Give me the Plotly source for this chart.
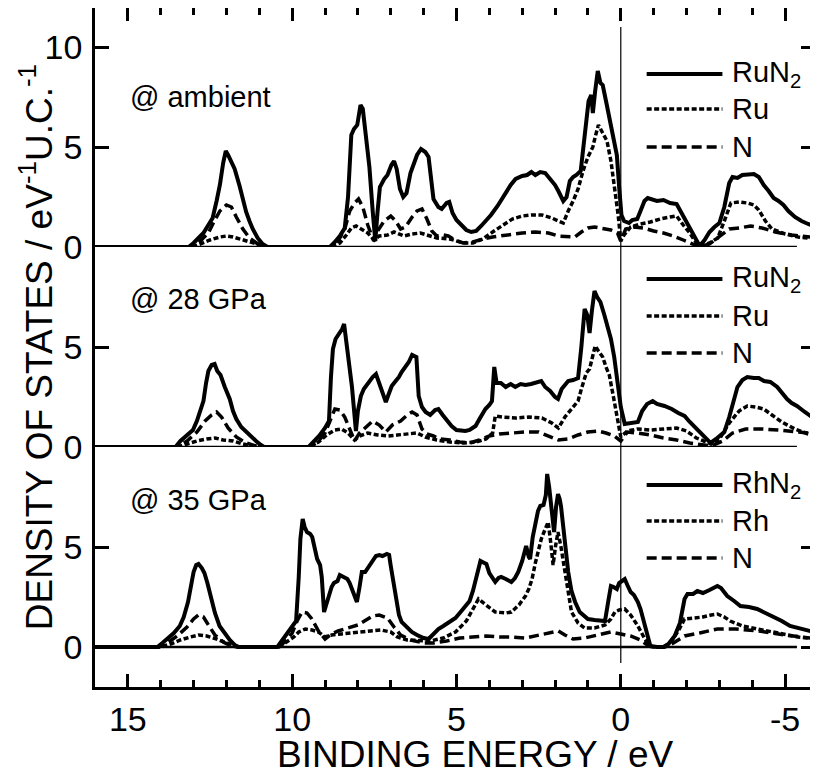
import plotly.graph_objects as go
from plotly.subplots import make_subplots

# ---------------- data (binding energy in eV, DOS in eV^-1 U.C.^-1) ----------------
# ambient RuN2
E_amb_tot = [16, 13.15, 13.0, 12.85, 12.7, 12.55, 12.42, 12.3, 12.2, 12.1, 12.02, 11.95, 11.85, 11.75, 11.6, 11.5, 11.4, 11.3, 11.2, 11.05, 10.9, 10.75,
             8.85, 8.7, 8.55, 8.4, 8.3, 8.2, 8.12, 8.02, 7.92, 7.85, 7.76, 7.65, 7.55, 7.47, 7.4, 7.33, 7.2, 7.1, 6.98, 6.9, 6.82, 6.72, 6.62, 6.52,
             6.4, 6.3, 6.2, 6.08, 5.95, 5.85, 5.78, 5.7, 5.55, 5.45, 5.3, 5.22, 5.12, 5.0, 4.85, 4.7, 4.55, 4.4, 4.25, 4.1, 3.95, 3.75, 3.55, 3.35,
             3.2, 3.0, 2.85, 2.72, 2.6, 2.45, 2.3, 2.15, 2.0, 1.9, 1.75, 1.65, 1.55, 1.45, 1.35, 1.22, 1.1, 0.98, 0.9, 0.85, 0.78, 0.7, 0.62, 0.55,
             0.45, 0.35, 0.25, 0.12, 0.05, -0.02, -0.1, -0.25, -0.35, -0.5, -0.6, -0.72, -0.82, -0.95, -1.1, -1.3, -1.5, -1.7, -1.85, -2.0, -2.15,
             -2.3, -2.4, -2.55, -2.7, -2.85, -3.0, -3.15, -3.3, -3.4, -3.55, -3.7, -3.85, -4.05, -4.2, -4.35, -4.5, -4.65, -4.8, -4.95, -5.1, -5.3,
             -5.5, -5.7, -6.0]
D_amb_tot = [0, 0, 0.2, 0.45, 0.7, 1.1, 1.45, 2.3, 3.1, 4.2, 4.8, 4.6, 4.3, 3.9, 3.05, 2.3, 1.75, 1.3, 0.9, 0.45, 0.15, 0,
             0, 0.25, 0.55, 0.95, 2.5, 5.6, 5.9, 6.1, 7.1, 6.9, 5.7, 4.0, 1.8, 0.3, 1.8, 3.0, 3.4, 3.6, 4.1, 4.3, 3.9, 2.9, 2.5, 2.7,
             3.7, 4.2, 4.6, 4.9, 4.75, 4.5, 3.5, 2.4, 2.0, 1.9, 2.2, 2.25, 1.7, 1.35, 1.1, 0.85, 0.75, 0.8, 1.05, 1.3, 1.6, 2.05, 2.6, 3.1,
             3.4, 3.55, 3.6, 3.75, 3.6, 3.75, 3.7, 3.4, 3.1, 2.8, 2.3, 2.5, 3.3, 3.5, 3.6, 3.8, 5.5, 7.3, 7.6, 6.7, 7.8, 8.8, 8.2, 8.1,
             7.3, 6.4, 5.6, 4.6, 3.0, 1.6, 1.3, 1.2, 1.35, 1.4, 1.8, 2.3, 2.45, 2.4, 2.3, 2.35, 2.2, 2.15, 1.7, 1.3, 0.8,
             0.3, 0.05, 0.35, 0.75, 1.0, 1.2, 2.0, 3.2, 3.5, 3.45, 3.6, 3.6, 3.65, 3.5, 3.1, 2.8, 2.45, 2.3, 2.1, 1.8, 1.5,
             1.3, 1.15, 1.0]
E_amb_ru = [16, 13.05, 12.8, 12.5, 12.2, 12.0, 11.8, 11.5, 11.2, 10.9, 10.75, 8.8, 8.55, 8.35, 8.2, 8.05, 7.9, 7.7, 7.5, 7.35, 7.1, 6.9, 6.6,
            6.35, 6.1, 5.9, 5.6, 5.2, 4.8, 4.5, 4.2, 3.9, 3.6, 3.3, 3.0, 2.7, 2.4, 2.1, 1.9, 1.75, 1.6, 1.45, 1.3, 1.15, 1.0, 0.85, 0.78,
            0.68, 0.55, 0.42, 0.3, 0.18, 0.08, 0.0, -0.1, -0.3, -0.6, -0.9, -1.2, -1.5, -1.7, -1.9, -2.1, -2.3, -2.45, -2.7, -2.95, -3.15,
            -3.35, -3.6, -3.85, -4.05, -4.2, -4.4, -4.6, -5.0, -5.4, -6.0]
D_amb_ru = [0, 0, 0.15, 0.35, 0.5, 0.55, 0.5, 0.35, 0.2, 0.05, 0, 0, 0.2, 0.6, 0.95, 1.05, 0.9, 0.7, 0.35, 0.55, 0.6, 0.75, 0.55,
            0.65, 0.7, 0.6, 0.45, 0.4, 0.2, 0.2, 0.4, 0.75, 1.1, 1.4, 1.55, 1.6, 1.6, 1.45, 1.3, 1.2, 1.8, 2.3, 2.9, 3.8, 4.5, 5.0, 5.5,
            6.1, 5.7, 5.3, 4.3, 2.9, 1.6, 0.3, 0.6, 1.0, 1.15, 1.25, 1.4, 1.5, 1.55, 1.1, 0.7, 0.2, 0.05, 0.2, 0.45, 1.3,
            2.2, 2.25, 2.2, 2.1, 1.85, 1.3, 0.9, 0.65, 0.5, 0.4]
E_amb_n = [16, 13.1, 12.8, 12.55, 12.4, 12.2, 12.0, 11.85, 11.7, 11.5, 11.3, 11.0, 10.8, 8.8, 8.6, 8.4, 8.25, 8.1, 7.98, 7.85, 7.7, 7.52,
           7.4, 7.2, 7.0, 6.85, 6.7, 6.55, 6.35, 6.2, 6.05, 5.9, 5.75, 5.6, 5.4, 5.25, 5.05, 4.8, 4.5, 4.2, 3.9, 3.5, 3.0, 2.6, 2.2, 1.9,
           1.6, 1.4, 1.2, 1.0, 0.8, 0.5, 0.3, 0.1, 0.0, -0.15, -0.4, -0.7, -1.0, -1.3, -1.6, -1.9, -2.2, -2.4, -2.7, -3.0, -3.3, -3.6,
           -3.95, -4.3, -4.7, -5.2, -6.0]
D_amb_n = [0, 0, 0.3, 0.7, 1.2, 1.8, 2.1, 2.0, 1.5, 0.9, 0.45, 0.1, 0, 0, 0.3, 0.9, 1.8, 2.2, 2.4, 2.0, 1.1, 0.3,
           0.8, 1.3, 1.55, 1.3, 0.9, 1.0, 1.5, 1.8, 1.9, 1.4, 0.8, 0.55, 0.6, 0.55, 0.35, 0.2, 0.25, 0.4, 0.5, 0.6, 0.7, 0.75, 0.7, 0.55,
           0.5, 0.5, 0.75, 0.95, 1.0, 0.9, 0.85, 0.7, 0.3, 0.9, 1.0, 0.95, 0.8, 0.7, 0.55, 0.35, 0.15, 0.0, 0.15, 0.5, 0.9, 0.95,
           1.05, 0.95, 0.75, 0.6, 0.45]

# 28 GPa RuN2
E_28_tot = [16, 13.55, 13.4, 13.2, 13.02, 12.9, 12.78, 12.7, 12.62, 12.55, 12.45, 12.36, 12.28, 12.18, 12.05, 11.9, 11.8, 11.7, 11.55, 11.4,
            11.25, 11.1, 10.95, 10.85, 9.5, 9.35, 9.18, 9.0, 8.88, 8.82, 8.76, 8.68, 8.58, 8.48, 8.42, 8.35, 8.27, 8.18, 8.12, 8.06, 8.0,
            7.91, 7.82, 7.76, 7.65, 7.55, 7.45, 7.35, 7.25, 7.15, 7.05, 6.97, 6.85, 6.75, 6.67, 6.55, 6.45, 6.35, 6.28, 6.22, 6.15, 6.05,
            5.94, 5.8, 5.65, 5.55, 5.42, 5.3, 5.15, 5.0, 4.85, 4.73, 4.6, 4.42, 4.3, 4.12, 4.0, 3.92, 3.85, 3.78, 3.65, 3.5, 3.35, 3.21,
            3.05, 2.9, 2.73, 2.55, 2.42, 2.3, 2.15, 2.0, 1.91, 1.8, 1.7, 1.6, 1.45, 1.3, 1.2, 1.1, 1.02, 0.95, 0.88, 0.8, 0.72, 0.62, 0.5,
            0.4, 0.3, 0.2, 0.1, 0.0, -0.12, -0.3, -0.52, -0.65, -0.8, -0.97, -1.1, -1.33, -1.55, -1.75, -1.94, -2.1, -2.3, -2.55, -2.73,
            -2.9, -3.05, -3.15, -3.3, -3.45, -3.55, -3.7, -3.85, -4.05, -4.2, -4.36, -4.55, -4.76, -4.9, -5.06, -5.2, -5.36, -5.6, -5.88, -6.0]
D_28_tot = [0, 0, 0.3, 0.6, 0.85, 1.3, 1.9, 2.3, 3.2, 3.8, 4.1, 4.15, 3.8, 3.6, 3.0, 2.4, 1.8, 1.4, 1.0, 0.75,
            0.5, 0.3, 0.1, 0, 0, 0.25, 0.55, 0.95, 1.3, 3.5, 4.9, 5.4, 5.65, 5.9, 6.15, 5.3, 4.25, 3.0, 1.9, 0.8, 1.8,
            2.55, 2.9, 3.05, 3.3, 3.5, 3.65, 3.2, 2.7, 2.25, 2.7, 3.05, 3.3, 3.5, 3.75, 4.0, 4.25, 4.6, 4.55, 4.5, 2.55, 2.0,
            1.75, 1.6, 1.85, 1.9, 1.6, 1.35, 1.05, 0.85, 0.8, 0.8, 0.85, 1.05, 1.4, 1.9, 2.1, 2.3, 4.0, 3.2, 3.2, 3.0, 3.15, 3.0,
            3.15, 3.1, 3.15, 3.25, 3.3, 3.0, 2.8, 2.5, 2.4, 2.9, 3.1, 3.3, 3.35, 3.45, 5.0, 6.9, 6.6, 5.7, 6.8, 7.8, 7.5, 7.25, 6.6,
            6.0, 5.4, 4.5, 3.3, 2.0, 1.15, 1.2, 1.25, 1.8, 2.15, 2.3, 2.15, 2.05, 1.9, 1.7, 1.55, 1.25, 0.9, 0.5, 0.2,
            0.4, 0.6, 0.75, 1.5, 2.5, 3.0, 3.35, 3.5, 3.45, 3.45, 3.3, 3.25, 3.0, 2.7, 2.4, 2.2, 2.05, 1.75, 1.4, 1.3]
E_28_ru = [16, 13.5, 13.2, 12.9, 12.6, 12.35, 12.1, 11.8, 11.5, 11.2, 10.9, 9.45, 9.2, 8.95, 8.7, 8.5, 8.3, 8.1, 7.95, 7.7, 7.4, 7.1, 6.8,
           6.5, 6.2, 5.95, 5.6, 5.2, 4.8, 4.4, 4.1, 3.9, 3.82, 3.6, 3.2, 2.8, 2.4, 2.1, 1.9, 1.7, 1.5, 1.3, 1.2, 1.05, 0.95, 0.85, 0.78,
           0.68, 0.55, 0.45, 0.35, 0.2, 0.08, 0.0, -0.2, -0.5, -0.9, -1.3, -1.7, -2.0, -2.3, -2.6, -2.75, -3.0, -3.3, -3.6, -3.85, -4.1,
           -4.35, -4.6, -4.9, -5.3, -5.7, -6.0]
D_28_ru = [0, 0, 0.15, 0.3, 0.4, 0.45, 0.35, 0.3, 0.15, 0.05, 0, 0, 0.25, 0.6, 0.85, 0.9, 0.7, 0.35, 0.55, 0.7, 0.6, 0.55, 0.6,
           0.65, 0.7, 0.5, 0.35, 0.25, 0.2, 0.25, 0.4, 0.7, 1.55, 1.5, 1.45, 1.5, 1.45, 1.2, 0.95, 1.5, 1.9, 2.3, 2.9, 3.7, 3.9, 4.6, 5.05,
           4.8, 4.5, 4.0, 3.6, 2.3, 1.2, 0.5, 0.8, 0.9, 0.85, 0.9, 0.95, 0.8, 0.45, 0.25, 0.15, 0.4, 1.2, 1.8, 2.05, 2.0,
           1.9, 1.6, 1.25, 0.9, 0.65, 0.55]
E_28_n = [16, 13.5, 13.2, 12.9, 12.65, 12.45, 12.3, 12.15, 11.95, 11.7, 11.4, 11.1, 10.9, 9.45, 9.2, 9.0, 8.85, 8.7, 8.55, 8.4, 8.25, 8.1,
          7.95, 7.75, 7.55, 7.35, 7.15, 6.95, 6.7, 6.5, 6.35, 6.2, 6.05, 5.9, 5.7, 5.5, 5.2, 4.9, 4.6, 4.3, 4.0, 3.7, 3.3, 2.9, 2.5, 2.2,
          1.9, 1.6, 1.3, 1.0, 0.7, 0.45, 0.2, 0.0, -0.2, -0.5, -0.9, -1.3, -1.7, -2.1, -2.5, -2.75, -3.1, -3.4, -3.8, -4.3, -4.8, -5.3, -6.0]
D_28_n = [0, 0, 0.3, 0.75, 1.3, 1.6, 1.75, 1.5, 0.95, 0.5, 0.2, 0.05, 0, 0, 0.3, 0.7, 1.3, 1.9, 1.85, 1.5, 0.9, 0.3,
          0.7, 1.0, 1.3, 1.1, 0.75, 1.1, 1.3, 1.6, 1.75, 1.6, 0.9, 0.65, 0.55, 0.4, 0.35, 0.25, 0.2, 0.35, 0.55, 0.65, 0.7, 0.75, 0.75, 0.55,
          0.35, 0.4, 0.6, 0.75, 0.8, 0.7, 0.55, 0.3, 0.75, 0.7, 0.6, 0.45, 0.35, 0.2, 0.1, 0.05, 0.3, 0.7, 0.9, 0.9, 0.85, 0.75, 0.65]

# 35 GPa RhN2
E_35_tot = [16, 14.1, 13.95, 13.8, 13.6, 13.42, 13.3, 13.17, 13.08, 13.0, 12.92, 12.85, 12.75, 12.67, 12.58, 12.46, 12.35, 12.21, 12.05,
            11.9, 11.75, 11.65, 10.45, 10.3, 10.1, 9.95, 9.88, 9.8, 9.75, 9.68, 9.62, 9.55, 9.45, 9.39, 9.3, 9.24, 9.15, 9.1, 9.03, 8.95,
            8.88, 8.8, 8.73, 8.62, 8.55, 8.48, 8.4, 8.32, 8.25, 8.18, 8.1, 8.03, 7.95, 7.88, 7.78, 7.67, 7.55, 7.45, 7.35, 7.25, 7.12, 7.05,
            7.0, 6.92, 6.85, 6.75, 6.67, 6.5, 6.36, 6.2, 6.0, 5.85, 5.7, 5.55, 5.4, 5.2, 5.03, 4.85, 4.7, 4.6, 4.5, 4.42, 4.33, 4.27, 4.15,
            4.09, 4.0, 3.9, 3.82, 3.72, 3.64, 3.5, 3.4, 3.33, 3.22, 3.12, 3.0, 2.88, 2.8, 2.76, 2.68, 2.61, 2.52, 2.45, 2.35, 2.28, 2.24,
            2.18, 2.12, 2.07, 2.03, 1.97, 1.91, 1.86, 1.82, 1.75, 1.68, 1.6, 1.5, 1.39, 1.25, 1.1, 1.0, 0.8, 0.6, 0.48, 0.38, 0.3, 0.22,
            0.12, 0.05, -0.05, -0.12, -0.2, -0.3, -0.4, -0.52, -0.6, -0.73, -0.82, -0.9, -1.1, -1.3, -1.45, -1.64, -1.8, -1.94, -2.03,
            -2.2, -2.33, -2.5, -2.7, -2.85, -2.94, -3.05, -3.24, -3.45, -3.64, -3.9, -4.15, -4.4, -4.67, -4.9, -5.15, -5.5, -5.88, -6.0]
D_35_tot = [0, 0, 0.2, 0.4, 0.7, 1.05, 1.5, 2.25, 3.0, 3.75, 4.1, 4.15, 3.95, 3.7, 3.2, 2.4, 1.7, 1.05, 0.65,
            0.35, 0.1, 0, 0, 0.35, 0.8, 1.1, 1.3, 3.5, 5.4, 6.4, 6.0, 5.75, 5.65, 5.5, 4.9, 4.4, 4.1, 3.5, 1.75, 2.2,
            2.6, 3.0, 3.2, 3.3, 3.6, 3.55, 3.5, 3.4, 3.2, 2.9, 2.5, 2.25, 3.0, 3.75, 3.75, 4.0, 4.3, 4.55, 4.6, 4.55, 4.65, 4.6,
            4.05, 3.2, 2.4, 1.6, 1.25, 0.95, 0.75, 0.6, 0.45, 0.4, 0.65, 0.9, 1.05, 1.25, 1.45, 1.8, 2.1, 2.3, 2.8, 3.3, 4.0, 4.3, 4.2,
            4.15, 3.7, 3.4, 3.25, 3.45, 3.5, 3.4, 3.3, 3.25, 3.45, 3.75, 4.3, 5.05, 4.5, 4.4, 5.5, 6.05, 6.8, 7.05, 7.1, 7.6, 8.65,
            8.0, 7.05, 6.3, 5.75, 7.0, 7.65, 7.4, 7.05, 6.0, 4.8, 3.75, 2.8, 2.25, 1.75, 1.5, 1.4, 1.35, 1.35, 1.3, 2.3, 3.05, 3.0,
            2.9, 3.2, 3.35, 3.4, 3.1, 2.75, 2.6, 2.25, 1.9, 1.05, 0.5, 0.05, 0.0, 0.0, 0.15, 0.55, 1.2, 2.4, 2.65,
            2.65, 2.8, 2.7, 2.85, 2.95, 3.05, 2.95, 2.55, 2.3, 2.05, 2.0, 1.9, 1.7, 1.5, 1.3, 1.05, 0.9, 0.75, 0.7]
E_35_rh = [16, 14.0, 13.7, 13.4, 13.1, 12.85, 12.6, 12.3, 12.0, 11.75, 11.6, 10.4, 10.2, 9.95, 9.8, 9.6, 9.4, 9.2, 9.0, 8.8, 8.5, 8.2,
           7.9, 7.6, 7.3, 7.0, 6.8, 6.5, 6.1, 5.8, 5.4, 5.03, 4.7, 4.5, 4.33, 4.1, 3.82, 3.5, 3.33, 3.1, 2.9, 2.8, 2.7, 2.6, 2.5, 2.42,
           2.3, 2.21, 2.13, 2.06, 1.98, 1.91, 1.82, 1.7, 1.6, 1.5, 1.3, 1.1, 0.8, 0.48, 0.3, 0.18, 0.05, -0.12, -0.3, -0.52, -0.7, -0.85,
           -1.0, -1.3, -1.5, -1.75, -1.94, -2.2, -2.5, -2.75, -2.94, -3.15, -3.33, -3.7, -4.35, -4.9, -5.4, -6.0]
D_35_rh = [0, 0, 0.15, 0.35, 0.5, 0.6, 0.55, 0.4, 0.2, 0.05, 0, 0, 0.2, 0.5, 0.75, 0.9, 0.85, 0.75, 0.5, 0.6, 0.65, 0.7,
           0.75, 0.8, 0.85, 0.75, 0.5, 0.35, 0.3, 0.3, 0.45, 0.75, 1.3, 1.9, 2.4, 2.1, 1.75, 1.7, 1.75, 2.1, 2.55, 2.9, 3.4, 4.2, 4.8, 5.4,
           5.9, 6.25, 5.2, 4.1, 5.1, 5.75, 5.0, 3.75, 2.7, 1.75, 1.2, 0.95, 0.95, 1.1, 1.4, 1.75, 1.85, 1.9, 1.6, 1.05, 0.5, 0.1,
           0.0, 0.0, 0.2, 0.8, 1.4, 1.45, 1.5, 1.6, 1.65, 1.5, 1.3, 1.05, 0.85, 0.65, 0.5, 0.4]
E_35_n = [16, 14.05, 13.8, 13.5, 13.2, 13.0, 12.85, 12.7, 12.55, 12.35, 12.1, 11.85, 11.65, 10.4, 10.2, 10.0, 9.85, 9.7, 9.55, 9.4, 9.2,
          9.0, 8.8, 8.6, 8.4, 8.2, 8.0, 7.8, 7.55, 7.35, 7.1, 6.9, 6.7, 6.4, 6.0, 5.7, 5.3, 4.9, 4.5, 4.1, 3.7, 3.3, 2.9, 2.5, 2.1, 1.9,
          1.7, 1.45, 1.1, 0.7, 0.3, 0.0, -0.3, -0.6, -0.85, -1.0, -1.35, -1.6, -1.94, -2.4, -2.94, -3.5, -4.2, -5.0, -6.0]
D_35_n = [0, 0, 0.2, 0.55, 1.0, 1.4, 1.6, 1.5, 1.1, 0.6, 0.25, 0.05, 0, 0, 0.3, 0.7, 1.3, 1.75, 1.7, 1.4, 0.8,
          0.4, 0.65, 0.8, 0.9, 1.0, 1.1, 1.3, 1.55, 1.6, 1.45, 1.0, 0.6, 0.35, 0.2, 0.2, 0.3, 0.45, 0.5, 0.55, 0.5, 0.5, 0.45, 0.6, 0.75, 0.8,
          0.6, 0.4, 0.45, 0.6, 0.75, 0.65, 0.55, 0.35, 0.05, 0.0, 0.0, 0.2, 0.55, 0.7, 0.9, 0.9, 0.8, 0.6, 0.4]

panel_labels = ["@ ambient", "@ 28 GPa", "@ 35 GPa"]
legend_names = [["RuN<sub>2</sub>", "Ru", "N"], ["RuN<sub>2</sub>", "Ru", "N"], ["RhN<sub>2</sub>", "Rh", "N"]]
x_ticks = [15, 10, 5, 0, -5]
y_ranges = [[0, 11.95], [0, 10], [-2, 10]]
y_ticks = [[0, 5, 10], [0, 5], [0, 5]]

panels = [
    [(E_amb_tot, D_amb_tot), (E_amb_ru, D_amb_ru), (E_amb_n, D_amb_n)],
    [(E_28_tot, D_28_tot), (E_28_ru, D_28_ru), (E_28_n, D_28_n)],
    [(E_35_tot, D_35_tot), (E_35_rh, D_35_rh), (E_35_n, D_35_n)],
]

# ---------------- styling ----------------
FONT = "Liberation Sans, Arial, Helvetica, sans-serif"
styles = [dict(width=4, dash="solid"), dict(width=3.5, dash="5px,2.5px"), dict(width=3.5, dash="10px,5px")]

fig = make_subplots(rows=3, cols=1, shared_xaxes=True, vertical_spacing=0, row_heights=[11.95, 10, 12])

for r, series in enumerate(panels, start=1):
    for k in [2, 1, 0]:
        E, D = series[k]
        fig.add_trace(go.Scatter(x=E, y=D, mode="lines", showlegend=False,
                                 line=dict(color="black", width=styles[k]["width"], dash=styles[k]["dash"]),
                                 hoverinfo="skip"), row=r, col=1)
    fig.add_shape(type="line", x0=16, x1=-5.36, y0=0, y1=0, line=dict(color="black", width=2.5), row=r, col=1)

for r in range(1, 4):
    fig.update_yaxes(range=y_ranges[r - 1], tickvals=y_ticks[r - 1], ticktext=[str(v) for v in y_ticks[r - 1]],
                     showline=True, linecolor="black", linewidth=2.5, mirror="ticks",
                     ticks="inside", ticklen=14, tickwidth=2.5, tickcolor="black",
                     tickfont=dict(family=FONT, size=34, color="black"), ticklabelstandoff=3,
                     showgrid=False, zeroline=False, row=r, col=1)

xcommon = dict(range=[16, -5.91], showgrid=False, zeroline=False, tickvals=x_ticks)
fig.update_xaxes(**xcommon)
fig.update_xaxes(side="top", showline=True, linecolor="black", linewidth=2.5, ticks="inside", ticklen=13, tickwidth=2.5,
                 tickcolor="black", showticklabels=False,
                 minor=dict(dtick=1, ticks="inside", ticklen=7, tickwidth=2.5, tickcolor="black"), row=1, col=1)
fig.update_xaxes(showline=False, ticks="", showticklabels=False, row=2, col=1)
fig.update_xaxes(showline=True, linecolor="black", linewidth=2.5, ticks="inside", ticklen=13, tickwidth=2.5,
                 tickcolor="black", showticklabels=True, ticktext=[str(v) for v in x_ticks],
                 tickfont=dict(family=FONT, size=34, color="black"), ticklabelstandoff=0,
                 minor=dict(dtick=1, ticks="inside", ticklen=7, tickwidth=2.5, tickcolor="black"), row=3, col=1)

# vertical Fermi-level line
fig.add_shape(type="line", xref="x", yref="paper", x0=0, x1=0, y0=0.0353, y1=0.972, line=dict(color="black", width=1.2))

annotations = []
label_y = [0.8689, 0.5714, 0.2754]
for lab, yy in zip(panel_labels, label_y):
    annotations.append(dict(text=lab, xref="paper", yref="paper", x=0.0456, y=yy, xanchor="left", yanchor="middle",
                            showarrow=False, font=dict(family=FONT, size=29, color="black")))
leg_rows = [[0.9028, 0.8513, 0.7953], [0.6009, 0.5464, 0.4919], [0.2975, 0.2445, 0.19]]
for p in range(3):
    for k in range(3):
        yy = leg_rows[p][k]
        fig.add_shape(type="line", xref="paper", yref="paper", x0=0.7662, x1=0.8714, y0=yy, y1=yy,
                      line=dict(color="black", width=styles[k]["width"], dash=styles[k]["dash"]))
        annotations.append(dict(text=legend_names[p][k], xref="paper", yref="paper", x=0.8824, y=yy,
                                xanchor="left", yanchor="middle", showarrow=False,
                                font=dict(family=FONT, size=29, color="black")))
annotations.append(dict(text="DENSITY OF STATES / eV<sup>-1</sup>U.C.<sup>-1</sup>", xref="paper", yref="paper",
                        x=-0.0816, y=0.5007, xanchor="center", yanchor="middle", textangle=-90, showarrow=False,
                        font=dict(family=FONT, size=37, color="black")))
annotations.append(dict(text="BINDING ENERGY / eV", xref="paper", yref="paper", x=0.5277, y=-0.1001,
                        xanchor="center", yanchor="middle", showarrow=False,
                        font=dict(family=FONT, size=37, color="black")))

# the page adds an 8px body margin, so the figure is sized/offset to compensate
fig.update_layout(width=810, height=770, margin=dict(l=87, r=0, t=0, b=91),
                  plot_bgcolor="white", paper_bgcolor="white", annotations=annotations, showlegend=False)

fig.write_html("out.html")
